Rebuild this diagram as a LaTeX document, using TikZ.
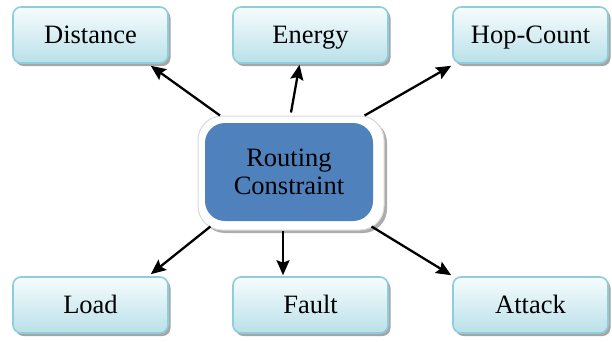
\documentclass[tikz,border=0pt]{standalone}
\usepackage{fontspec}
\setmainfont{Liberation Serif}
\usetikzlibrary{arrows.meta,shadows}
\definecolor{boxtop}{HTML}{F7FCFD}
\definecolor{boxbot}{HTML}{B9E0E9}
\definecolor{boxline}{HTML}{8ECDDB}
\definecolor{coreblue}{HTML}{4F81BD}
\tikzset{
  leaf/.style={rectangle, rounded corners=8pt, draw=boxline, line width=1.6pt,
    top color=boxtop, bottom color=boxbot, minimum width=155pt, minimum height=56pt,
    text height=21pt, text depth=5pt,
    font=\fontsize{26.5}{28}\selectfont,
    drop shadow={shadow xshift=2.5pt, shadow yshift=-3pt, fill=gray!70, opacity=1}},
  outer/.style={rectangle, rounded corners=24pt, fill=white, draw=gray!30, line width=1pt,
    minimum width=186pt, minimum height=114pt,
    drop shadow={shadow xshift=3pt, shadow yshift=-3pt, fill=gray!65, opacity=1}},
  core/.style={rectangle, rounded corners=20pt, fill=coreblue, minimum width=168pt,
    minimum height=98pt, align=center, font=\fontsize{26.5}{28}\selectfont},
  arr/.style={line width=2.3pt, -{Stealth[length=15pt,width=13pt,inset=2.5pt]}}
}
\begin{document}
\begin{tikzpicture}[x=1pt,y=-1pt]
\useasboundingbox (0,0) rectangle (612,341);
\node[leaf] (dist) at (90.5,35) {Distance};
\node[leaf] (energy) at (310.5,35) {Energy};
\node[leaf] (hop) at (530.5,35) {Hop-Count};
\node[leaf] (load) at (90.5,305) {Load};
\node[leaf] (fault) at (310.5,305) {Fault};
\node[leaf] (attack) at (530.5,305) {Attack};
\node[outer] (C) at (291,173) {};
\node[core] (core) at (289,172) {Routing\\Constraint};
\draw[arr] (C.141) -- ([xshift=-18pt,yshift=-2pt]dist.south east);
\draw[arr] ([yshift=3pt]C.north) -- ([xshift=-11pt,yshift=-1pt]energy.south);
\draw[arr] (C.38) -- ([xshift=-1pt,yshift=-2pt]hop.south west);
\draw[arr] ([xshift=8pt,yshift=4pt]C.213) -- ([xshift=-18pt,yshift=2pt]load.north east);
\draw[arr] ([xshift=-8pt]C.south) -- ([xshift=-27.5pt,yshift=1pt]fault.north);
\draw[arr] ([xshift=-8pt,yshift=4pt]C.-33) -- ([xshift=-1pt,yshift=1pt]attack.north west);
\end{tikzpicture}
\end{document}
